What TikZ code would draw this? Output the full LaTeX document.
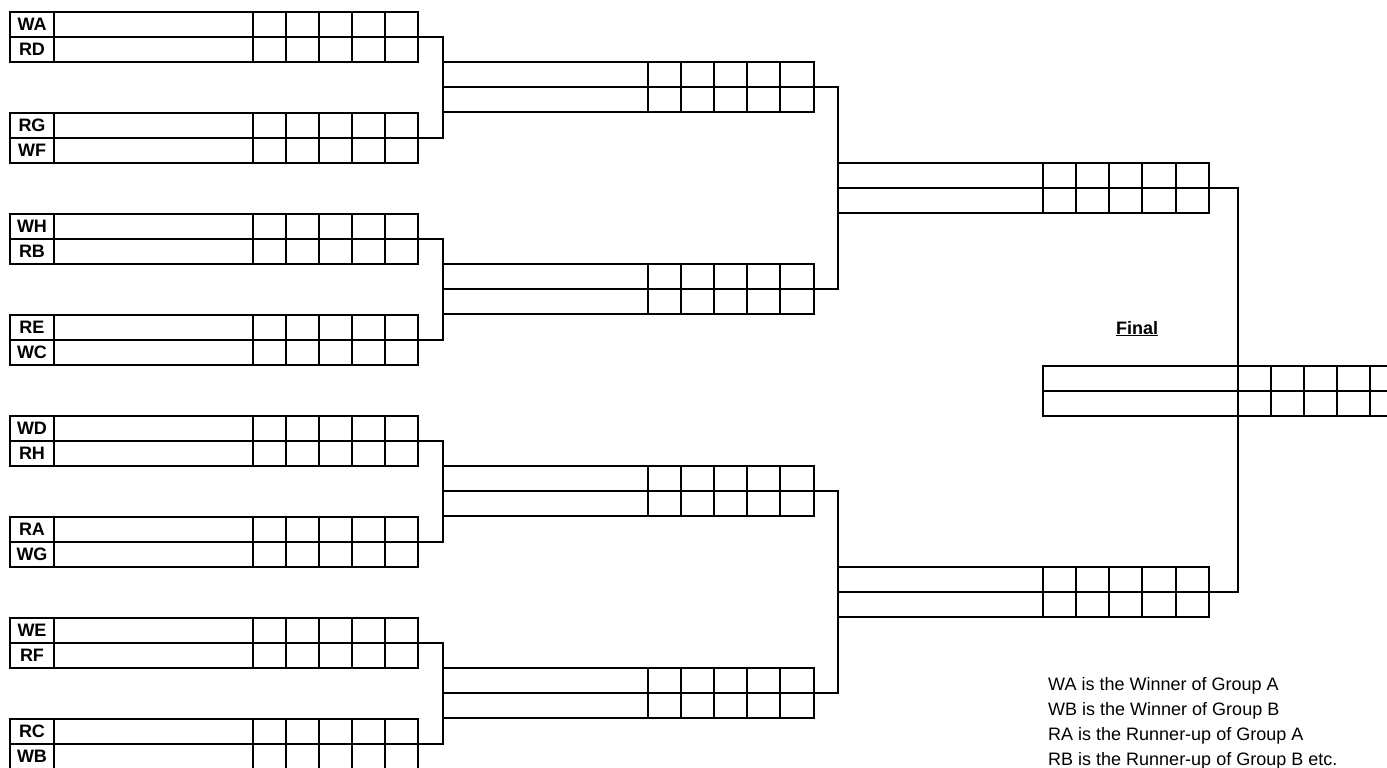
\documentclass[tikz,border=0pt]{standalone}
\usepackage{fontspec}
\setmainfont{Liberation Sans}
\newcommand{\roundone}[5]{%
  \node[mbox, minimum width=408pt, anchor=north west] (#1) at (#2,#3) {};
  \draw[grid] (#1.west) -- (#1.east);
  \foreach \dd in {44,243,276,309,342,375}
    \draw[grid] ([xshift=\dd pt]#1.north west) -- ([xshift=\dd pt]#1.south west);
  \node[lab] (#1-l1) at ([xshift=22pt,yshift=-12.5pt]#1.north west) {#4};
  \node[lab] (#1-l2) at ([xshift=22pt,yshift=12.5pt]#1.south west) {#5};
}
\newcommand{\roundlater}[5]{%
  \node[mbox, minimum width=#4pt, anchor=north west] (#1) at (#2,#3) {};
  \draw[grid] (#1.west) -- (#1.east);
  \foreach \dd in {#5}
    \draw[grid] ([xshift=\dd pt]#1.north west) -- ([xshift=\dd pt]#1.south west);
}
\begin{document}
\begin{tikzpicture}[x=1pt,y=-1pt,
  mbox/.style={draw, line width=2pt, rectangle, inner sep=0pt, outer sep=0pt, minimum height=50pt},
  grid/.style={line width=2pt},
  conn/.style={line width=2pt},
  lab/.style={font=\fontsize{18}{20}\selectfont\bfseries, inner sep=0pt},
  note/.style={font=\fontsize{18}{22}\selectfont, inner sep=0pt, anchor=base west}]
\useasboundingbox (0,0) rectangle (1387,768);
\clip (0,0) rectangle (1387,768);
% round 1
\roundone{a0}{10}{12}{WA}{RD}
\roundone{a1}{10}{113}{RG}{WF}
\roundone{a2}{10}{214}{WH}{RB}
\roundone{a3}{10}{315}{RE}{WC}
\roundone{a4}{10}{416}{WD}{RH}
\roundone{a5}{10}{517}{RA}{WG}
\roundone{a6}{10}{618}{WE}{RF}
\roundone{a7}{10}{719}{RC}{WB}
% round 2
\roundlater{b0}{443}{62}{371}{205,238,271,304,337}
\roundlater{b1}{443}{264}{371}{205,238,271,304,337}
\roundlater{b2}{443}{466}{371}{205,238,271,304,337}
\roundlater{b3}{443}{668}{371}{205,238,271,304,337}
% round 3
\roundlater{c0}{838}{163}{371}{205,238,271,304,338}
\roundlater{c1}{838}{567}{371}{205,238,271,304,338}
% final
\roundlater{f}{1043}{365.5}{360}{195,228,261,294,327}
\coordinate (fx) at ([xshift=195pt]f.north west);
% connectors
\draw[conn] (a0.east) -| (b0.north west) -- (b0.south west) |- (a1.east);
\draw[conn] (a2.east) -| (b1.north west) -- (b1.south west) |- (a3.east);
\draw[conn] (a4.east) -| (b2.north west) -- (b2.south west) |- (a5.east);
\draw[conn] (a6.east) -| (b3.north west) -- (b3.south west) |- (a7.east);
\draw[conn] (b0.east) -| (c0.north west) -- (c0.south west) |- (b1.east);
\draw[conn] (b2.east) -| (c1.north west) -- (c1.south west) |- (b3.east);
\draw[conn] (c0.east) -| (fx) -- (fx |- c1.east) -- (c1.east);
% labels
\node[lab, anchor=base] (flab) at (1137,334) {\underline{Final}};
\node[note] (n1) at (1048,690) {WA is the Winner of Group A};
\node[note] (n2) at (1048,715) {WB is the Winner of Group B};
\node[note] (n3) at (1048,740) {RA is the Runner-up of Group A};
\node[note] (n4) at (1048,765) {RB is the Runner-up of Group B etc.};
\end{tikzpicture}
\end{document}
